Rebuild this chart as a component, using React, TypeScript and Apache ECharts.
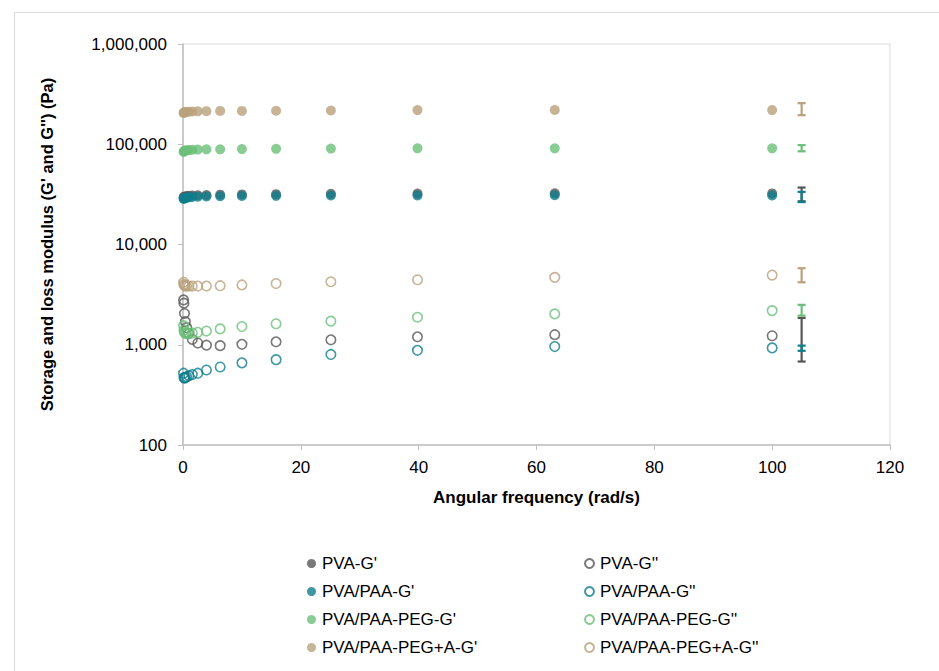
import React, { useEffect, useRef } from "react";
import * as echarts from "echarts";

const freq = [0.1, 0.158, 0.251, 0.398, 0.631, 1, 1.58, 2.51, 3.98, 6.31, 10, 15.8, 25.1, 39.8, 63.1, 100];

const pvaG1 = [29500, 29800, 30000, 30200, 30400, 30600, 30800, 31000, 31200, 31400, 31600, 31800, 32000, 32200, 32400, 32300];
const pvaG2 = [2800, 2600, 2050, 1700, 1480, 1300, 1130, 1040, 990, 980, 1010, 1070, 1120, 1200, 1260, 1230];
const paaG1 = [28500, 28800, 29000, 29200, 29400, 29600, 29800, 30000, 30200, 30300, 30500, 30600, 30800, 30900, 31000, 30800];
const paaG2 = [520, 470, 465, 470, 480, 490, 505, 520, 560, 600, 660, 710, 800, 880, 960, 930];
const pegG1 = [84000, 85000, 86000, 86500, 87000, 87500, 88000, 88500, 89000, 89000, 89500, 90000, 90500, 91000, 91000, 91000];
const pegG2 = [1550, 1400, 1330, 1300, 1300, 1300, 1310, 1330, 1370, 1440, 1520, 1620, 1720, 1880, 2030, 2190];
const pegAG1 = [205000, 207000, 208000, 209000, 210000, 211000, 212000, 213000, 214000, 215000, 215000, 216000, 217000, 219000, 220000, 219000];
const pegAG2 = [4200, 4000, 3900, 3850, 3850, 3850, 3850, 3850, 3850, 3880, 3950, 4080, 4250, 4450, 4700, 4950];

// error bars at x = 105: [low, high]
const errX = 105;
const pvaG1Err = [27000, 37000];
const pvaG2Err = [680, 1850];
const paaG1Err = [26500, 33500];
const paaG2Err = [870, 980];
const pegG1Err = [85000, 98000];
const pegG2Err = [1950, 2500];
const pegAG1Err = [195000, 257000];
const pegAG2Err = [4200, 5800];

const seriesNames = [
  "PVA-G'", "PVA-G''",
  "PVA/PAA-G'", "PVA/PAA-G''",
  "PVA/PAA-PEG-G'", "PVA/PAA-PEG-G''",
  "PVA/PAA-PEG+A-G'", "PVA/PAA-PEG+A-G''",
];

const C_GRAY = "#575757";
const C_TEAL = "#0f7d8c";
const C_GREEN = "#6bbf79";
const C_TAN = "#b9a17c";

export default function App() {
  const ref = useRef<HTMLDivElement>(null);
  useEffect(() => {
    document.body.style.margin = "0";
    const chart = echarts.init(ref.current!, undefined, { renderer: "svg" });
    const font = "'Liberation Sans', Arial, sans-serif";

    const values = [pvaG1, pvaG2, paaG1, paaG2, pegG1, pegG2, pegAG1, pegAG2];
    const errs = [pvaG1Err, pvaG2Err, paaG1Err, paaG2Err, pegG1Err, pegG2Err, pegAG1Err, pegAG2Err];
    const colors = [C_GRAY, C_GRAY, C_TEAL, C_TEAL, C_GREEN, C_GREEN, C_TAN, C_TAN];

    const scatterSeries: any[] = seriesNames.map((name, i) => {
      const hollow = i % 2 === 1;
      return {
        name,
        type: "scatter",
        symbol: "circle",
        symbolSize: hollow ? 9.5 : 10,
        itemStyle: hollow
          ? { color: "rgba(255,255,255,0)", borderColor: colors[i], borderWidth: 1.6 }
          : { color: colors[i] },
        data: freq.map((f, k) => [f, values[i][k]]),
        z: 3,
      };
    });

    const errSeries: any[] = seriesNames.map((name, i) => ({
      name: name + " err",
      type: "custom",
      z: 4,
      data: [[errX, errs[i][0], errs[i][1]]],
      renderItem: (params: any, api: any) => {
        const x = api.value(0);
        const lo = api.coord([x, api.value(1)]);
        const hi = api.coord([x, api.value(2)]);
        const hw = 4;
        const style = { stroke: colors[i], lineWidth: 2.2, fill: "none" };
        return {
          type: "group",
          children: [
            { type: "line", shape: { x1: lo[0], y1: lo[1], x2: hi[0], y2: hi[1] }, style },
            { type: "line", shape: { x1: lo[0] - hw, y1: lo[1], x2: lo[0] + hw, y2: lo[1] }, style },
            { type: "line", shape: { x1: hi[0] - hw, y1: hi[1], x2: hi[0] + hw, y2: hi[1] }, style },
          ],
        };
      },
    }));

    const legendCommon = {
      orient: "vertical",
      icon: "circle",
      itemWidth: 9,
      itemHeight: 9,
      itemGap: 11,
      padding: 0,
      textStyle: { fontFamily: font, fontSize: 17, color: "#000", lineHeight: 17, padding: [0, 0, 0, 1] },
      selectedMode: false,
    };

    chart.setOption({
      animation: false,
      backgroundColor: "#fff",
      textStyle: { fontFamily: font },
      graphic: [
        {
          type: "rect",
          shape: { x: 14.5, y: 12.5, width: 1000, height: 800 },
          style: { fill: "none", stroke: "#d9d9d9", lineWidth: 1 },
          silent: true,
          z: -10,
        },
      ],
      grid: {
        left: 183,
        top: 44,
        right: 49,
        bottom: 226,
        show: true,
        borderColor: "#d9d9d9",
        borderWidth: 1,
      },
      legend: [
        { ...legendCommon, left: 307, top: 555, data: seriesNames.filter((_, i) => i % 2 === 0) },
        { ...legendCommon, left: 584, top: 555, data: seriesNames.filter((_, i) => i % 2 === 1) },
      ],
      xAxis: {
        type: "value",
        min: 0,
        max: 120,
        interval: 20,
        name: "Angular frequency (rad/s)",
        nameLocation: "middle",
        nameGap: 44,
        nameTextStyle: { fontFamily: font, fontSize: 17, fontWeight: "bold", color: "#000" },
        axisLine: { show: true, onZero: false, lineStyle: { color: "#bfbfbf", width: 1.5 } },
        axisTick: { show: true, length: 5, lineStyle: { color: "#bfbfbf" } },
        axisLabel: { fontFamily: font, fontSize: 17, color: "#000", margin: 14 },
        splitLine: { show: false },
      },
      yAxis: {
        type: "log",
        logBase: 10,
        min: 100,
        max: 1000000,
        name: "Storage and loss modulus (G' and G'') (Pa)",
        nameLocation: "middle",
        nameGap: 128,
        nameTextStyle: { fontFamily: font, fontSize: 16.5, fontWeight: "bold", color: "#000" },
        axisLine: { show: true, lineStyle: { color: "#bfbfbf", width: 1.5 } },
        axisTick: { show: true, length: 5, lineStyle: { color: "#bfbfbf" } },
        minorTick: { show: false },
        axisLabel: {
          fontFamily: font,
          fontSize: 17,
          color: "#000",
          margin: 16,
          formatter: (v: number) => Math.round(v).toLocaleString("en-US"),
        },
        splitLine: { show: false },
      },
      series: [...scatterSeries, ...errSeries],
    });
    return () => chart.dispose();
  }, []);
  return (
    <div
      ref={ref}
      style={{ position: "fixed", left: 0, top: 0, width: 939, height: 671 }}
    />
  );
}
